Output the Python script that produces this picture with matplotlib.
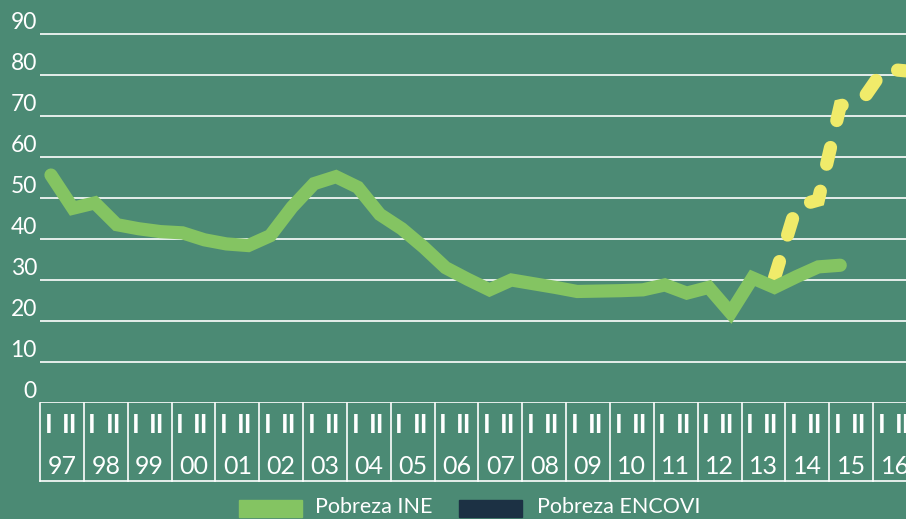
import matplotlib
matplotlib.use("Agg")
import matplotlib.pyplot as plt
from matplotlib.patches import Rectangle

plt.rcParams['font.family'] = ['Lato', 'DejaVu Sans']

# years shown on the x axis (two semesters each)
years = ['97', '98', '99', '00', '01', '02', '03', '04', '05', '06',
         '07', '08', '09', '10', '11', '12', '13', '14', '15', '16']
semesters = ['I', 'II']

# Pobreza INE, semester by semester from 97-I to 15-I
ine = [55.6, 47.5, 48.8, 43.5, 42.5, 41.8, 41.5, 39.8, 38.8, 38.4,
       40.8, 47.8, 53.5, 55.2, 52.6, 46.0, 42.5, 38.0, 33.0, 30.2,
       27.6, 30.0, 29.1, 28.2, 27.2, 27.3, 27.4, 27.6, 28.8, 26.8,
       28.2, 22.0, 30.5, 28.2, 30.8, 33.2, 33.6]
# Pobreza ENCOVI, from 13-II to 16-II
encovi = [30.5, 48.0, 49.5, 72.5, 73.8, 81.5, 81.0]
encovi_start = 33  # semester index of 13-II

yticks = [0, 10, 20, 30, 40, 50, 60, 70, 80, 90]

bg = '#4b8a74'
green = '#84c462'
yellow = '#f0eb6a'
navy = '#1c3144'

W, H = 906, 519
fig = plt.figure(figsize=(W / 100, H / 100), dpi=100, facecolor=bg)
ax = fig.add_axes([40 / W, 116 / H, 866 / W, 403 / H])
ax.set_facecolor(bg)
ax.set_xlim(0, 19.75)
ax.set_ylim(0, 403 / 4.1)
ax.axis('off')

def sem_x(k):
    return k // 2 + 0.25 + 0.5 * (k % 2)

# grid + y labels
for v in yticks:
    ax.axhline(v, color='white', lw=1.2, zorder=1)
    ax.text(-0.07, v + 0.3, str(v), color='white', fontsize=16.5,
            ha='right', va='bottom', clip_on=False)

# box of semesters and years under the plot
box_bottom = -78 / 4.1
for i in range(len(years) + 1):
    ax.plot([i, i], [0, box_bottom], color='white', lw=1.2, clip_on=False)
ax.plot([0, 20], [box_bottom, box_bottom], color='white', lw=1.2, clip_on=False)
for i, yr in enumerate(years):
    ax.text(i + 0.19, -7.2, semesters[0], color='white', fontsize=19,
            fontweight='bold', ha='center', va='baseline', clip_on=False)
    ax.text(i + 0.67, -7.2, semesters[1], color='white', fontsize=19,
            fontweight='bold', ha='center', va='baseline', clip_on=False)
    ax.text(i + 0.5, -17.2, yr, color='white', fontsize=18,
            ha='center', va='baseline', clip_on=False)

# series
x_ine = [sem_x(k) for k in range(len(ine))]
x_enc = [sem_x(encovi_start + k) for k in range(len(encovi))]
ax.plot(x_enc, encovi, color=yellow, lw=9.5, dashes=(1.3, 2.1),
        dash_capstyle='round', dash_joinstyle='miter', zorder=3)
ax.plot(x_ine, ine, color=green, lw=9.5, solid_capstyle='round',
        solid_joinstyle='miter', zorder=4)

# legend
fig.patches.append(Rectangle((239 / W, 2 / H), 63 / W, 17 / H,
                             transform=fig.transFigure, color=green))
fig.text(315 / W, 2 / H, 'Pobreza INE', color='white', fontsize=15.5, va='bottom')
fig.patches.append(Rectangle((459 / W, 2 / H), 63 / W, 17 / H,
                             transform=fig.transFigure, color=navy))
fig.text(537 / W, 2 / H, 'Pobreza ENCOVI', color='white', fontsize=15.5, va='bottom')

fig.savefig('out.png', dpi=100, facecolor=bg)
